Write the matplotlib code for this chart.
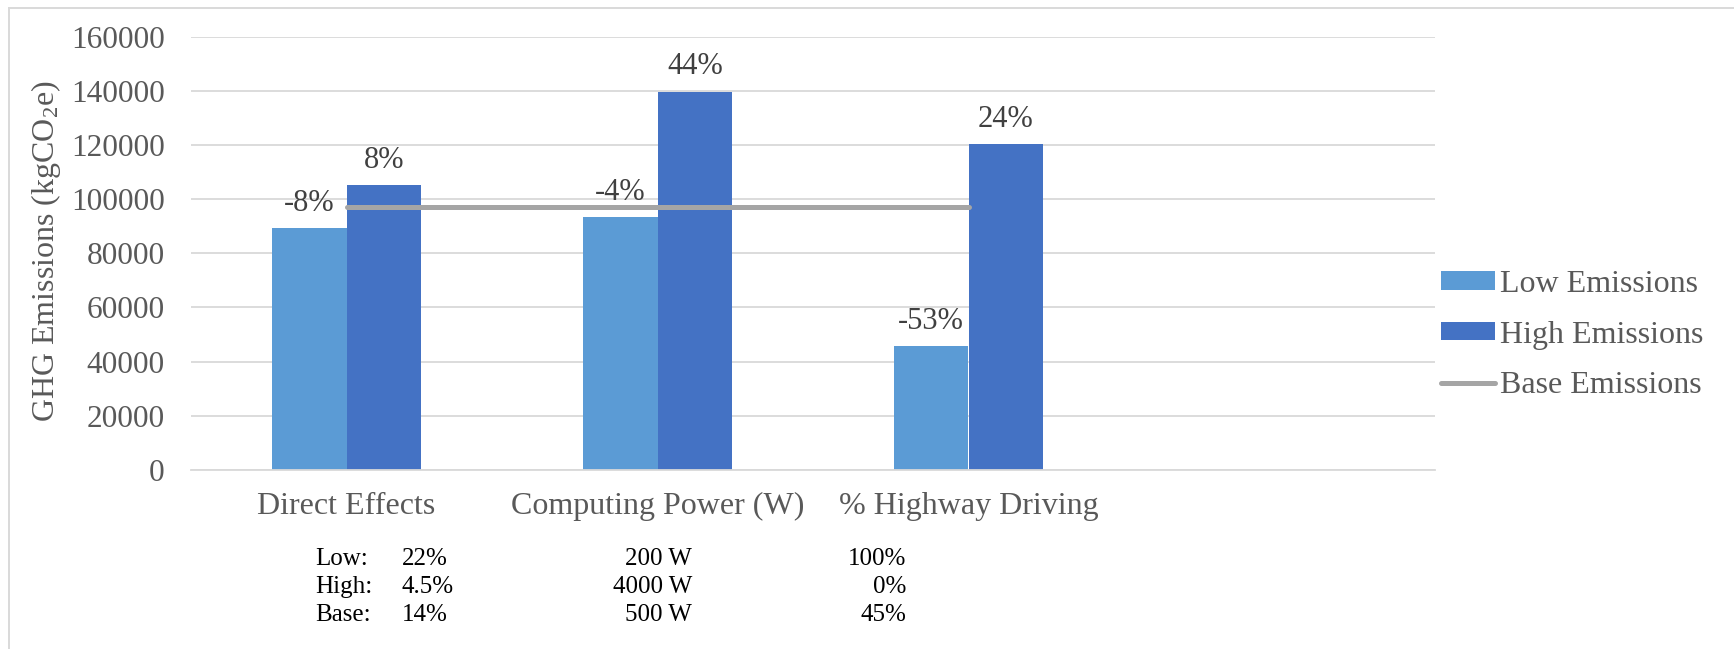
import numpy as np
import matplotlib.pyplot as plt
from matplotlib.lines import Line2D

plt.rcParams['font.family'] = ['Liberation Serif', 'DejaVu Serif']
plt.rcParams['mathtext.fontset'] = 'custom'
plt.rcParams['mathtext.rm'] = 'Liberation Serif'
plt.rcParams['mathtext.it'] = 'Liberation Serif:italic'

categories = ['Direct Effects', 'Computing Power (W)', '% Highway Driving']
low_emissions = [89300, 93300, 45600]
high_emissions = [105100, 139600, 120200]
base_emissions = [97100, 97100, 97100]
low_labels = ['-8%', '-4%', '-53%']
high_labels = ['8%', '44%', '24%']

# parameter values written under each category
row_names = ['Low:', 'High:', 'Base:']
param_low = ['22%', '200 W', '100%']
param_high = ['4.5%', '4000 W', '0%']
param_base = ['14%', '500 W', '45%']

W, H = 1734, 649
grey_txt = '#595959'
grid_col = '#D9D9D9'
fs = 23

fig = plt.figure(figsize=(W / 100, H / 100), dpi=100)
ax = fig.add_axes([191 / W, 1 - 470 / H, (1435 - 191) / W, (470 - 36.5) / H])

x = np.arange(len(categories))
bw = 0.24
low_bars = ax.bar(x - bw / 2, low_emissions, bw, color='#5B9BD5', label='Low Emissions', zorder=2)
high_bars = ax.bar(x + bw / 2, high_emissions, bw, color='#4472C4', label='High Emissions', zorder=2)
base_line, = ax.plot(x, base_emissions, color='#A5A5A5', lw=3.6, solid_capstyle='round',
                     label='Base Emissions', zorder=3)

for bars, labels in [(low_bars, low_labels), (high_bars, high_labels)]:
    for b, lab in zip(bars, labels):
        ax.annotate(lab, (b.get_x() + b.get_width() / 2, b.get_height()),
                    xytext=(0, 7.5), textcoords='offset points', ha='center', va='bottom',
                    fontsize=22, color='#404040', zorder=4)

# Excel left one empty category slot on the right
ax.set_xlim(-0.5, len(categories) + 0.5)
ax.set_ylim(0, 160000)
ax.set_yticks(np.arange(0, 160001, 20000))
ax.set_xticks(x)
ax.set_xticklabels(categories)
ax.tick_params(axis='both', length=0, labelsize=fs, colors=grey_txt)
ax.tick_params(axis='y', labelsize=22.5, pad=19)
ax.tick_params(axis='x', pad=16)
ax.grid(axis='y', color=grid_col, lw=1.3, zorder=0)
for s in ['top', 'left', 'right']:
    ax.spines[s].set_visible(False)
ax.spines['bottom'].set_color(grid_col)
ax.spines['bottom'].set_linewidth(1.3)

ax.set_ylabel('GHG Emissions (kgCO$_2$e)', fontsize=fs, color=grey_txt)
ax.yaxis.set_label_coords(-0.103, 0.505)

fig.legend(handles=[low_bars, high_bars, base_line], loc='center left',
           bbox_to_anchor=(1441 / W, 1 - 335 / H), frameon=False, fontsize=fs,
           labelcolor=grey_txt, handlelength=1.7, handleheight=0.5, handletextpad=0.15,
           labelspacing=0.68, borderpad=0, borderaxespad=0)

# small table of parameter values under the x axis
row_y = [559, 587, 615]
for name, yy in zip(row_names, row_y):
    fig.text(315 / W, 1 - yy / H, name, ha='left', va='center', fontsize=18, color='black')
for vals, yy in zip([param_low, param_high, param_base], row_y):
    fig.text(402 / W, 1 - yy / H, vals[0], ha='left', va='center', fontsize=18, color='black')
    fig.text(692 / W, 1 - yy / H, vals[1], ha='right', va='center', fontsize=18, color='black')
    fig.text(906 / W, 1 - yy / H, vals[2], ha='right', va='center', fontsize=18, color='black')

# chart border (only top and left edges are visible in the crop)
fig.add_artist(Line2D([8.5 / W, 1], [1 - 7.5 / H, 1 - 7.5 / H], transform=fig.transFigure,
                      color=grid_col, lw=1.4))
fig.add_artist(Line2D([8.5 / W, 8.5 / W], [0, 1 - 7.5 / H], transform=fig.transFigure,
                      color=grid_col, lw=1.4))

fig.savefig('out.png', dpi=100)
